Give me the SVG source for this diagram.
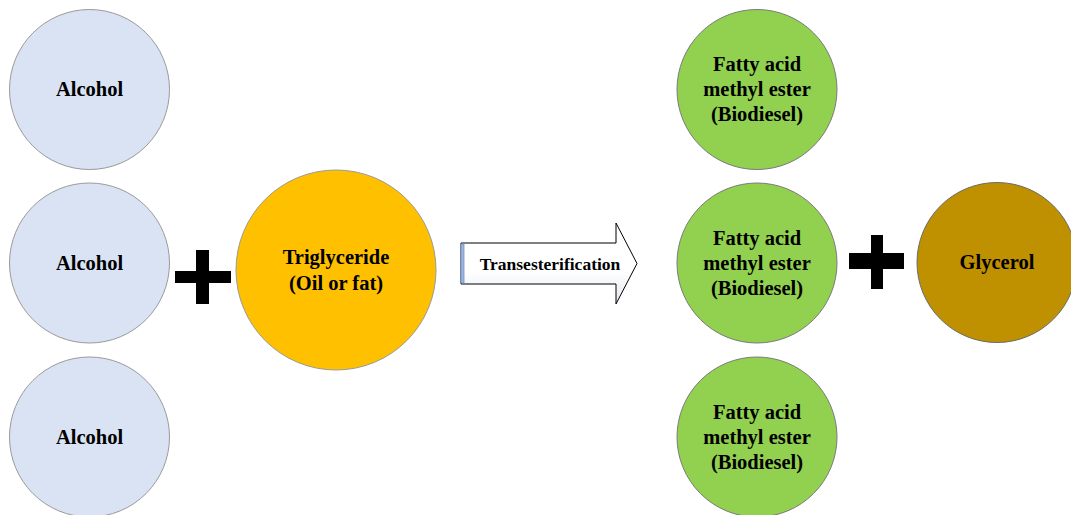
<svg xmlns="http://www.w3.org/2000/svg" width="1071" height="515" viewBox="0 0 1071 515">
<defs>
<style>
text{font-family:"Liberation Serif","Times New Roman",serif;font-weight:bold;fill:#000;text-anchor:middle}
.lbl{font-size:20.5px}
.alc{fill:#DAE3F3;stroke:#9a9a9a;stroke-width:1}
.tri{fill:#FFC000;stroke:#9a9a9a;stroke-width:1}
.fame{fill:#92D050;stroke:#7a7a7a;stroke-width:1}
.gly{fill:#BF9000;stroke:#6a6a6a;stroke-width:1}
.plus{fill:#000}
</style>
<linearGradient id="ag" x1="0" y1="0" x2="0" y2="1">
<stop offset="0" stop-color="#ffffff"/>
<stop offset="0.6" stop-color="#ffffff"/>
<stop offset="1" stop-color="#e4e8f0"/>
</linearGradient>
</defs>
<rect width="1071" height="515" fill="#fff"/>
<g id="alcohol1"><circle class="alc" cx="89.5" cy="89.5" r="80"/><text class="lbl" x="89.5" y="96">Alcohol</text></g>
<g id="alcohol2"><circle class="alc" cx="89.5" cy="263" r="80"/><text class="lbl" x="89.5" y="270">Alcohol</text></g>
<g id="alcohol3"><circle class="alc" cx="89.5" cy="437" r="80"/><text class="lbl" x="89.5" y="444">Alcohol</text></g>
<g id="plus1"><rect class="plus" x="175" y="271" width="56" height="12"/><rect class="plus" x="196" y="250" width="13" height="54"/></g>
<g id="triglyceride"><circle class="tri" cx="336" cy="270" r="100"/><text class="lbl" x="336" y="264">Triglyceride</text><text class="lbl" x="336" y="290">(Oil or fat)</text></g>
<g id="connectors">
<g id="transesterification">
<path d="M461,243 H616 V223 L637,263.5 L616,304 V284 H461 Z" fill="url(#ag)" stroke="#000" stroke-width="1"/>
<rect x="461" y="244" width="3" height="39" fill="#9fb6de" stroke="#6f8fc8" stroke-width="0.8"/>
<text x="550" y="269.5" font-size="17.5px">Transesterification</text>
</g>
</g>
<g id="fame1"><circle class="fame" cx="757" cy="89.5" r="80"/><text class="lbl" x="757" y="71">Fatty acid</text><text class="lbl" x="757" y="96">methyl ester</text><text class="lbl" x="757" y="121">(Biodiesel)</text></g>
<g id="fame2"><circle class="fame" cx="757" cy="263" r="80"/><text class="lbl" x="757" y="245">Fatty acid</text><text class="lbl" x="757" y="270">methyl ester</text><text class="lbl" x="757" y="295">(Biodiesel)</text></g>
<g id="fame3"><circle class="fame" cx="757" cy="437" r="80"/><text class="lbl" x="757" y="419">Fatty acid</text><text class="lbl" x="757" y="444">methyl ester</text><text class="lbl" x="757" y="469">(Biodiesel)</text></g>
<g id="plus2"><rect class="plus" x="849" y="253" width="55" height="16"/><rect class="plus" x="871" y="235" width="12" height="54"/></g>
<g id="glycerol"><circle class="gly" cx="997" cy="262.5" r="80"/><text class="lbl" x="997" y="269">Glycerol</text></g>
</svg>
